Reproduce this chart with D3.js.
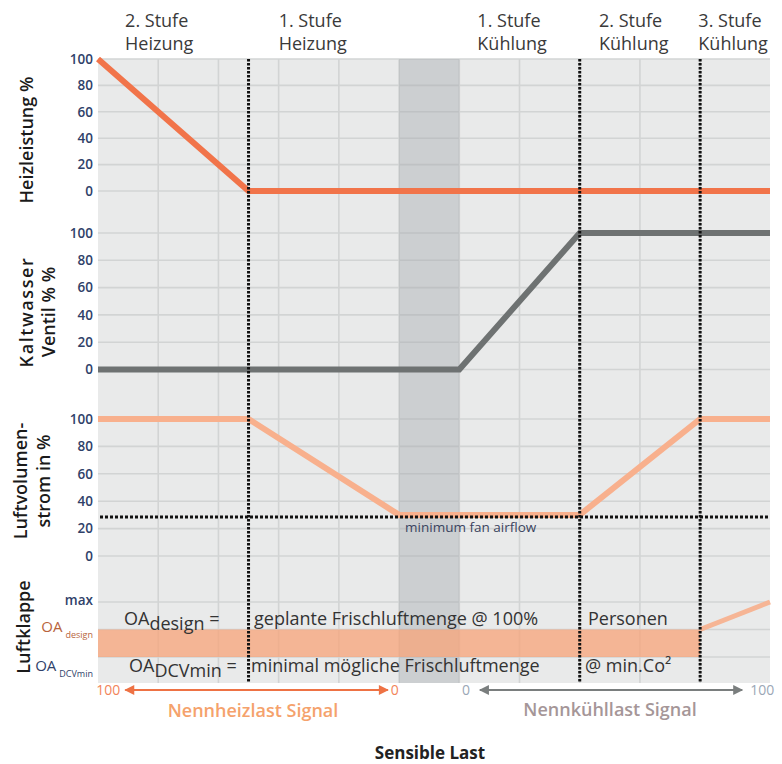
<!DOCTYPE html>
<html><head><meta charset="utf-8">
<script src="https://cdn.jsdelivr.net/npm/d3@7"></script>
<style>body{margin:0;background:#fff;} svg{display:block;font-family:"Open Sans",sans-serif;}</style>
</head><body><svg id="c" width="782" height="764"></svg>
<script>
// ---------- data ----------
const stageLabels = [["2. Stufe","Heizung"],["1. Stufe","Heizung"],["1. Stufe","Kühlung"],["2. Stufe","Kühlung"],["3. Stufe","Kühlung"]];
const stageLabelStart = [0.45, 3.0, 6.3, 8.32, 9.97];
const stageDividers = [2.5, 8, 10];
const gridColumns = [1,2,3,4,5,6,7,8,9,10];
const minAirflowZone = [5, 6];
const percentTicks = [0,20,40,60,80,100];

const heatX = [0, 2.5, 11.16];
const heatY = [100, 0, 0];
const valveX = [0, 6, 8, 11.16];
const valveY = [0, 0, 100, 100];
const airX = [0, 2.5, 5, 8, 10, 11.16];
const airY = [100, 100, 30, 30, 100, 100];
const minFanAirflow = 30;

const damperTickValues = [0, 1, 2];
const damperTickNames = [["OA","DCVmin"],["OA","design"],["max",""]];
const damperBandX = [0, 10];
const damperBandY = [0, 1];
const damperX = [10, 11.16];
const damperY = [1, 2];

const panelTitles = [["Heizleistung %"],["Kaltwasser","Ventil % %"],["Luftvolumen-","strom in %"],["Luftklappe"]];
const noteRow1 = [["OA","design"," ="], "geplante Frischluftmenge @ 100%", "Personen"];
const noteRow2 = [["OA","DCVmin"," ="], "minimal mögliche Frischluftmenge", "@ min.Co²"];
const heatSignalTicks = [100, 0];
const coolSignalTicks = [0, 100];

// ---------- layout ----------
const svg = d3.select("#c");
const X0 = 98, X1 = 770, TOP = 59, BOTTOM = 683;
const x = d3.scaleLinear().domain([0, 11.16]).range([X0, X1]);
const y1 = d3.scaleLinear().domain([0,100]).range([191, 59]);
const y2 = d3.scaleLinear().domain([0,100]).range([369.5, 233]);
const y3 = d3.scaleLinear().domain([0,100]).range([556, 419]);
const y4 = d3.scaleLinear().domain([0,2]).range([657, 602]);

const gridColor = "#d2d4d4";
svg.append("rect").attr("x",X0).attr("y",TOP).attr("width",X1-X0).attr("height",BOTTOM-TOP).attr("fill","#e9eaea");

svg.append("g").selectAll("line").data(gridColumns).join("line")
  .attr("x1",d=>x(d)).attr("x2",d=>x(d)).attr("y1",TOP).attr("y2",BOTTOM)
  .attr("stroke",gridColor).attr("stroke-width",1.6);

const tickColor = "#2f4169";
[y1,y2,y3].forEach(ys=>{
  const g = svg.append("g");
  g.selectAll("line").data(percentTicks).join("line")
    .attr("x1",X0).attr("x2",X1).attr("y1",d=>ys(d)).attr("y2",d=>ys(d))
    .attr("stroke",gridColor).attr("stroke-width",1.6);
  g.selectAll("text").data(percentTicks).join("text")
    .attr("x",93).attr("y",d=>ys(d)).attr("dy","0.35em").attr("text-anchor","end")
    .attr("font-size",13.5).attr("font-weight",600).attr("fill",tickColor).text(d=>d);
});
svg.append("g").selectAll("line").data(damperTickValues).join("line")
  .attr("x1",X0).attr("x2",X1).attr("y1",d=>y4(d)).attr("y2",d=>y4(d))
  .attr("stroke",gridColor).attr("stroke-width",1.6);

const dOff = [8, -3, -2];
const dCol = ["#2f4169", "#b8643c", "#2f4169"];
damperTickValues.forEach((v,i)=>{
  const nm = damperTickNames[i];
  const t = svg.append("text").attr("x",93).attr("y",y4(v)+dOff[i]).attr("dy","0.35em")
    .attr("text-anchor","end").attr("fill",dCol[i]);
  if (nm[1]) {
    t.append("tspan").attr("font-size",15).text(nm[0]);
    t.append("tspan").attr("font-size",9).attr("dx",3).attr("dy",6).text(nm[1]);
  } else {
    t.attr("font-size",13.5).attr("font-weight",600).text(nm[0]);
  }
});

svg.append("rect").attr("x",x(minAirflowZone[0])).attr("y",TOP)
  .attr("width",x(minAirflowZone[1])-x(minAirflowZone[0])).attr("height",BOTTOM-TOP)
  .attr("fill","#a4a9ad").attr("opacity",0.42);

svg.append("rect").attr("x",x(damperBandX[0])).attr("y",y4(damperBandY[1]))
  .attr("width",x(damperBandX[1])-x(damperBandX[0])).attr("height",y4(damperBandY[0])-y4(damperBandY[1]))
  .attr("fill","#f7a47a").attr("opacity",0.76);

const mk = (xs, ys, sy) => d3.line().x((d,i)=>x(xs[i])).y((d,i)=>sy(ys[i]))(xs);
svg.append("path").attr("d",mk(heatX,heatY,y1)).attr("fill","none").attr("stroke","#f1744a").attr("stroke-width",6);
svg.append("path").attr("d",mk(valveX,valveY,y2)).attr("fill","none").attr("stroke","#6e7272").attr("stroke-width",6);
svg.append("path").attr("d",mk(airX,airY,y3)).attr("fill","none").attr("stroke","#f8b08d").attr("stroke-width",6);
svg.append("path").attr("d",mk(damperX,damperY,y4)).attr("fill","none").attr("stroke","#f6b595").attr("stroke-width",5);

svg.append("line").attr("x1",X0+2).attr("x2",X1).attr("y1",y3(minFanAirflow)+2).attr("y2",y3(minFanAirflow)+2)
  .attr("stroke","#111").attr("stroke-width",3).attr("stroke-dasharray","3,2");
svg.append("text").attr("x",x(5.1)).attr("y",532).attr("font-size",13.5).attr("font-weight",500).attr("fill","#3b4460").text("minimum fan airflow");

svg.append("g").selectAll("line").data(stageDividers).join("line")
  .attr("x1",d=>x(d)).attr("x2",d=>x(d)).attr("y1",TOP).attr("y2",BOTTOM)
  .attr("stroke","#111").attr("stroke-width",3).attr("stroke-dasharray","2.5,1.5");

stageLabels.forEach((l,i)=>{
  const t = svg.append("text").attr("x",x(stageLabelStart[i])).attr("y",27).attr("font-size",18).attr("fill","#3a3a3a");
  t.append("tspan").attr("x",x(stageLabelStart[i])).text(l[0]);
  t.append("tspan").attr("x",x(stageLabelStart[i])).attr("dy",23).text(l[1]);
});

const titlePos = [[[33,140]],[[33,312],[55,312]],[[27,481],[50,481]],[[30,627]]];
panelTitles.forEach((lines,i)=>{
  lines.forEach((s,j)=>{
    const [tx,ty] = titlePos[i][j];
    const t = svg.append("text").attr("transform",`translate(${tx},${ty}) rotate(-90)`)
      .attr("text-anchor","middle").attr("font-size",18).attr("font-weight",600).attr("fill","#1a1a1a").text(s);
    if (s==="Kaltwasser") t.attr("letter-spacing",1.6);
  });
});

const notes = (row, by) => {
  const t = svg.append("text").attr("x", row===noteRow1?124:129).attr("y",by).attr("font-size",18).attr("fill","#333");
  t.append("tspan").text(row[0][0]);
  t.append("tspan").attr("dy",5).text(row[0][1]);
  t.append("tspan").attr("dy",-5).text(row[0][2]);
  svg.append("text").attr("x",row===noteRow1?254:251).attr("y",by).attr("font-size",18).attr("fill","#333").text(row[1]);
  svg.append("text").attr("x",row===noteRow1?588:585).attr("y",by).attr("font-size",18).attr("fill","#333").text(row[2]);
};
notes(noteRow1, 625);
notes(noteRow2, 672);

const defs = svg.append("defs");
const arrow = (id,col)=>defs.append("marker").attr("id",id).attr("viewBox","0 0 10 10").attr("refX",9).attr("refY",5)
  .attr("markerWidth",6).attr("markerHeight",5).attr("markerUnits","strokeWidth").attr("orient","auto-start-reverse")
  .append("path").attr("d","M0,0L10,5L0,10z").attr("fill",col);
arrow("ah","#ee7244"); arrow("ac","#7a7e7e");
const sHeat = d3.scaleLinear().domain([100,0]).range([x(0.17), x(4.93)]);
const sCool = d3.scaleLinear().domain([0,100]).range([x(6.11), x(11.03)]);
svg.append("line").attr("x1",sHeat(100)+17).attr("x2",sHeat(0)-7).attr("y1",690).attr("y2",690)
  .attr("stroke","#ee7244").attr("stroke-width",2).attr("marker-start","url(#ah)").attr("marker-end","url(#ah)");
svg.append("line").attr("x1",sCool(0)+14).attr("x2",sCool(100)-20).attr("y1",690).attr("y2",690)
  .attr("stroke","#7a7e7e").attr("stroke-width",2).attr("marker-start","url(#ac)").attr("marker-end","url(#ac)");
svg.append("g").selectAll("text").data(heatSignalTicks).join("text")
  .attr("x",d=>sHeat(d)).attr("y",690).attr("dy","0.35em").attr("text-anchor","middle")
  .attr("font-size",14).attr("fill","#f2845a").text(d=>d);
svg.append("g").selectAll("text").data(coolSignalTicks).join("text")
  .attr("x",d=>sCool(d)).attr("y",690).attr("dy","0.35em").attr("text-anchor","middle")
  .attr("font-size",14).attr("fill","#9ba7b6").text(d=>d);
svg.append("text").attr("x",253).attr("y",717).attr("text-anchor","middle").attr("font-size",18).attr("font-weight",600)
  .attr("fill","#f5a26c").text("Nennheizlast Signal");
svg.append("text").attr("x",610).attr("y",716).attr("text-anchor","middle").attr("font-size",18).attr("font-weight",600)
  .attr("fill","#a59698").text("Nennkühllast Signal");
svg.append("text").attr("x",430).attr("y",759).attr("text-anchor","middle").attr("font-size",17).attr("font-weight",700)
  .attr("fill","#222").text("Sensible Last");
</script></body></html>
